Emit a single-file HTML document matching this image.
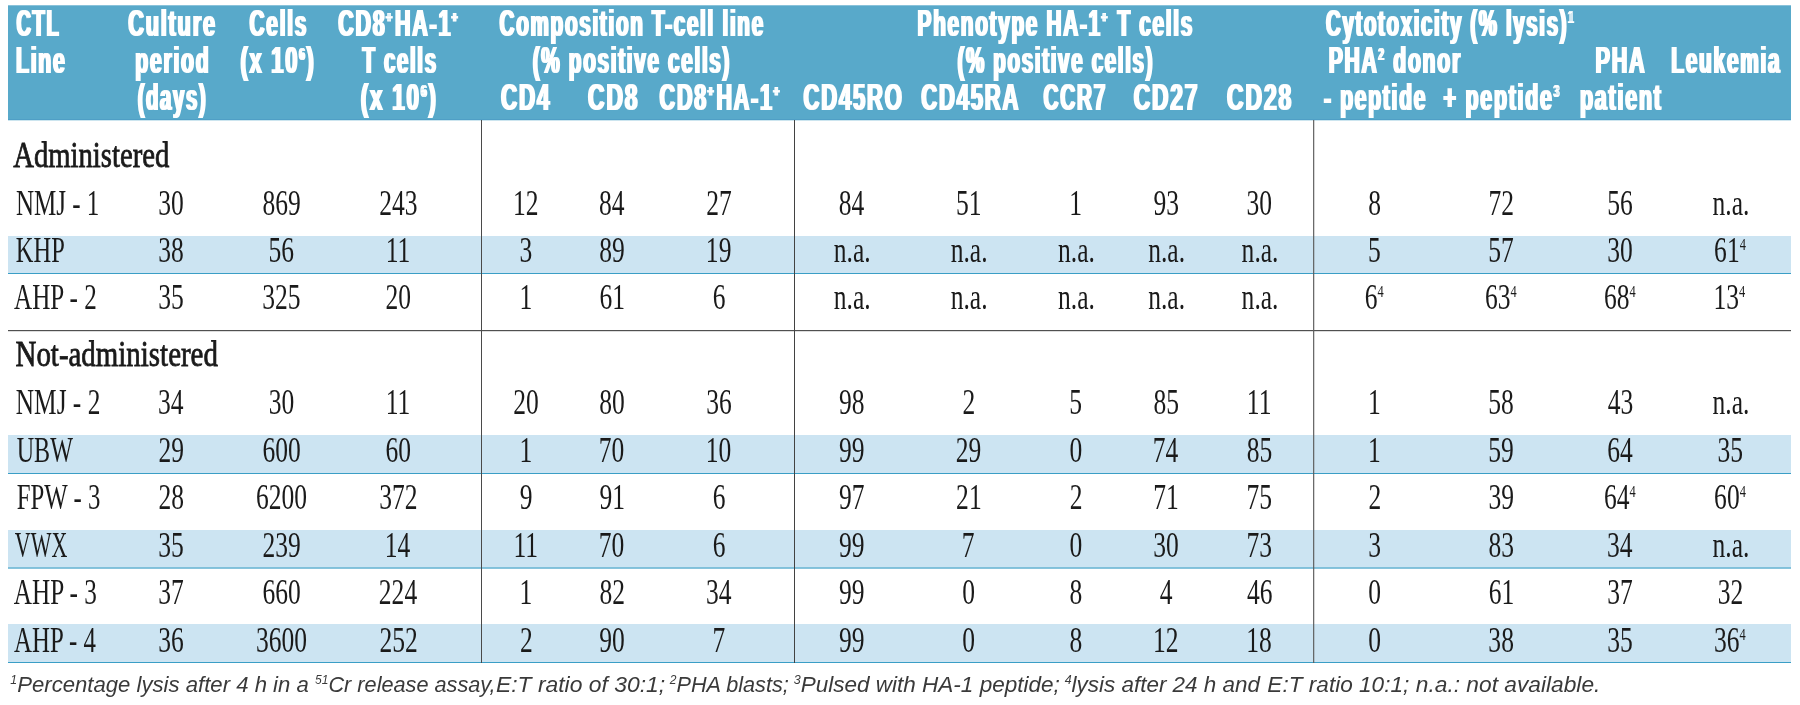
<!DOCTYPE html>
<html><head><meta charset="utf-8"><title>Table</title><style>
html,body{margin:0;padding:0;background:#fff;}
body{width:1800px;height:705px;overflow:hidden;}
svg{display:block;will-change:transform;}
.h{font-family:"Liberation Sans",sans-serif;font-weight:bold;font-size:36.2px;letter-spacing:3.0px;color:#fff;fill:currentColor;}
.b{font-family:"Liberation Serif",serif;font-size:36.0px;fill:#1a1a1a;}
.l{font-family:"Liberation Serif",serif;font-weight:normal;font-size:36.0px;fill:#1a1a1a;stroke:#1a1a1a;stroke-width:0.8px;}
.f{font-family:"Liberation Sans",sans-serif;font-style:italic;font-size:22.5px;fill:#3a3a3a;}
</style></head>
<body><svg width="1800" height="705" viewBox="0 0 1800 705">
<defs><filter id="fh" x="-2%" y="-10%" width="104%" height="120%"><feMorphology operator="dilate" radius="1 0"/></filter></defs>
<rect x="8" y="5.3" width="1783" height="115.0" fill="#58a9ca"/>
<rect x="8" y="119" width="1783" height="1" fill="#4f9fc6"/>
<rect x="8" y="236" width="1783" height="37" fill="#cce4f2"/>
<rect x="8" y="273" width="1783" height="1.0" fill="#3a9ec6"/>
<rect x="8" y="435" width="1783" height="38" fill="#cce4f2"/>
<rect x="8" y="473" width="1783" height="1.0" fill="#3a9ec6"/>
<rect x="8" y="530" width="1783" height="37.4" fill="#cce4f2"/>
<rect x="8" y="567.4" width="1783" height="1.2" fill="#3a9ec6"/>
<rect x="8" y="624" width="1783" height="38" fill="#cce4f2"/>
<rect x="8" y="662" width="1783" height="1.0" fill="#3a9ec6"/>
<rect x="8" y="330.0" width="1783" height="1.2" fill="#505050"/>
<rect x="481" y="120" width="1.0" height="543" fill="#4a4a4a"/>
<rect x="794" y="120" width="1.0" height="543" fill="#424242"/>
<rect x="1313.1" y="120" width="1.15" height="543" fill="#5a5a5a"/>
<g class="h" filter="url(#fh)">
<text transform="matrix(0.5525 0 0 1 16.51 35.60)">CTL</text>
<text transform="matrix(0.6002 0 0 1 128.19 35.60)">Culture</text>
<text transform="matrix(0.5756 0 0 1 249.60 35.60)">Cells</text>
<text transform="matrix(0.5929 0 0 1 338.19 35.60)">CD8<tspan style="font-size:15.0px;stroke:currentColor;stroke-width:0.9px" dy="-14.0">+</tspan><tspan dy="14.0" dx="2.5">HA-1</tspan><tspan style="font-size:15.0px;stroke:currentColor;stroke-width:0.9px" dy="-14.0">+</tspan></text>
<text transform="matrix(0.5704 0 0 1 499.60 35.60)">Composition T-cell line</text>
<text transform="matrix(0.5729 0 0 1 917.58 35.60)">Phenotype HA-1<tspan style="font-size:15.0px;stroke:currentColor;stroke-width:0.9px" dy="-14.0">+</tspan><tspan dy="14.0" dx="2.5"> T cells</tspan></text>
<text transform="matrix(0.5633 0 0 1 1326.01 35.60)">Cytotoxicity (% lysis)<tspan style="font-size:16.5px" dy="-13.0">1</tspan></text>
<text transform="matrix(0.5873 0 0 1 15.96 72.90)">Line</text>
<text transform="matrix(0.5842 0 0 1 135.26 72.90)">period</text>
<text transform="matrix(0.6035 0 0 1 240.40 72.90)">(x 10<tspan style="font-size:16.5px" dy="-13.0">6</tspan><tspan dy="13.0">)</tspan></text>
<text transform="matrix(0.5636 0 0 1 362.43 72.90)">T cells</text>
<text transform="matrix(0.5707 0 0 1 532.73 72.90)">(% positive cells)</text>
<text transform="matrix(0.5661 0 0 1 957.43 72.90)">(% positive cells)</text>
<text transform="matrix(0.5842 0 0 1 1328.66 72.90)">PHA<tspan style="font-size:16.5px" dy="-13.0">2</tspan><tspan dy="13.0"> donor</tspan></text>
<text transform="matrix(0.5964 0 0 1 1595.54 72.90)">PHA</text>
<text transform="matrix(0.5769 0 0 1 1671.27 72.90)">Leukemia</text>
<text transform="matrix(0.5597 0 0 1 137.64 109.50)">(days)</text>
<text transform="matrix(0.6177 0 0 1 360.68 109.50)">(x 10<tspan style="font-size:16.5px" dy="-13.0">6</tspan><tspan dy="13.0">)</tspan></text>
<text transform="matrix(0.6193 0 0 1 500.98 109.50)">CD4</text>
<text transform="matrix(0.6311 0 0 1 588.07 109.50)">CD8</text>
<text transform="matrix(0.5944 0 0 1 659.59 109.50)">CD8<tspan style="font-size:15.0px;stroke:currentColor;stroke-width:0.9px" dy="-14.0">+</tspan><tspan dy="14.0" dx="2.5">HA-1</tspan><tspan style="font-size:15.0px;stroke:currentColor;stroke-width:0.9px" dy="-14.0">+</tspan></text>
<text transform="matrix(0.6076 0 0 1 803.58 109.50)">CD45RO</text>
<text transform="matrix(0.6080 0 0 1 921.28 109.50)">CD45RA</text>
<text transform="matrix(0.5738 0 0 1 1043.60 109.50)">CCR7</text>
<text transform="matrix(0.6290 0 0 1 1133.67 109.50)">CD27</text>
<text transform="matrix(0.6321 0 0 1 1227.07 109.50)">CD28</text>
<text transform="matrix(0.5806 0 0 1 1323.95 109.50)">- peptide</text>
<text transform="matrix(0.5890 0 0 1 1443.59 109.50)">+ peptide<tspan style="font-size:16.5px" dy="-13.0">3</tspan></text>
<text transform="matrix(0.5923 0 0 1 1579.95 109.50)">patient</text>
</g>
<g class="l">
<text transform="matrix(0.7965 0 0 1 13.24 167.10)">Administered</text>
<text transform="matrix(0.8038 0 0 1 15.51 366.40)">Not-administered</text>
</g>
<g class="b">
<text transform="matrix(0.6959 0 0 1 15.89 214.80)">NMJ - 1</text>
<text transform="matrix(0.7100 0 0 1 158.27 214.80)">30</text>
<text transform="matrix(0.7100 0 0 1 262.52 214.80)">869</text>
<text transform="matrix(0.7100 0 0 1 379.14 214.80)">243</text>
<text transform="matrix(0.7100 0 0 1 513.00 214.80)">12</text>
<text transform="matrix(0.7100 0 0 1 598.88 214.80)">84</text>
<text transform="matrix(0.7100 0 0 1 706.34 214.80)">27</text>
<text transform="matrix(0.7100 0 0 1 838.68 214.80)">84</text>
<text transform="matrix(0.7100 0 0 1 955.89 214.80)">51</text>
<text transform="matrix(0.7100 0 0 1 1069.22 214.80)">1</text>
<text transform="matrix(0.7100 0 0 1 1153.46 214.80)">93</text>
<text transform="matrix(0.7100 0 0 1 1246.57 214.80)">30</text>
<text transform="matrix(0.7100 0 0 1 1368.37 214.80)">8</text>
<text transform="matrix(0.7100 0 0 1 1488.50 214.80)">72</text>
<text transform="matrix(0.7100 0 0 1 1607.13 214.80)">56</text>
<text transform="matrix(0.7100 0 0 1 1712.51 214.80)">n.a.</text>
<text transform="matrix(0.6796 0 0 1 15.81 262.00)">KHP</text>
<text transform="matrix(0.7100 0 0 1 158.27 262.00)">38</text>
<text transform="matrix(0.7100 0 0 1 268.53 262.00)">56</text>
<text transform="matrix(0.7100 0 0 1 385.65 262.00)">11</text>
<text transform="matrix(0.7100 0 0 1 519.57 262.00)">3</text>
<text transform="matrix(0.7100 0 0 1 599.21 262.00)">89</text>
<text transform="matrix(0.7100 0 0 1 705.87 262.00)">19</text>
<text transform="matrix(0.7100 0 0 1 833.81 262.00)">n.a.</text>
<text transform="matrix(0.7100 0 0 1 950.71 262.00)">n.a.</text>
<text transform="matrix(0.7100 0 0 1 1058.01 262.00)">n.a.</text>
<text transform="matrix(0.7100 0 0 1 1148.21 262.00)">n.a.</text>
<text transform="matrix(0.7100 0 0 1 1241.61 262.00)">n.a.</text>
<text transform="matrix(0.7100 0 0 1 1368.10 262.00)">5</text>
<text transform="matrix(0.7100 0 0 1 1488.21 262.00)">57</text>
<text transform="matrix(0.7100 0 0 1 1607.27 262.00)">30</text>
<text transform="matrix(0.7100 0 0 1 1714.11 262.00)">61<tspan style="font-size:17.5px" dy="-12.3">4</tspan></text>
<text transform="matrix(0.6976 0 0 1 14.02 309.10)">AHP - 2</text>
<text transform="matrix(0.7100 0 0 1 158.27 309.10)">35</text>
<text transform="matrix(0.7100 0 0 1 262.28 309.10)">325</text>
<text transform="matrix(0.7100 0 0 1 385.52 309.10)">20</text>
<text transform="matrix(0.7100 0 0 1 519.42 309.10)">1</text>
<text transform="matrix(0.7100 0 0 1 599.42 309.10)">61</text>
<text transform="matrix(0.7100 0 0 1 712.75 309.10)">6</text>
<text transform="matrix(0.7100 0 0 1 833.81 309.10)">n.a.</text>
<text transform="matrix(0.7100 0 0 1 950.71 309.10)">n.a.</text>
<text transform="matrix(0.7100 0 0 1 1058.01 309.10)">n.a.</text>
<text transform="matrix(0.7100 0 0 1 1148.21 309.10)">n.a.</text>
<text transform="matrix(0.7100 0 0 1 1241.61 309.10)">n.a.</text>
<text transform="matrix(0.7100 0 0 1 1364.80 309.10)">6<tspan style="font-size:17.5px" dy="-12.3">4</tspan></text>
<text transform="matrix(0.7100 0 0 1 1485.01 309.10)">63<tspan style="font-size:17.5px" dy="-12.3">4</tspan></text>
<text transform="matrix(0.7100 0 0 1 1603.91 309.10)">68<tspan style="font-size:17.5px" dy="-12.3">4</tspan></text>
<text transform="matrix(0.7100 0 0 1 1713.52 309.10)">13<tspan style="font-size:17.5px" dy="-12.3">4</tspan></text>
<text transform="matrix(0.7048 0 0 1 15.78 414.30)">NMJ - 2</text>
<text transform="matrix(0.7100 0 0 1 157.97 414.30)">34</text>
<text transform="matrix(0.7100 0 0 1 268.67 414.30)">30</text>
<text transform="matrix(0.7100 0 0 1 385.65 414.30)">11</text>
<text transform="matrix(0.7100 0 0 1 513.32 414.30)">20</text>
<text transform="matrix(0.7100 0 0 1 599.18 414.30)">80</text>
<text transform="matrix(0.7100 0 0 1 706.20 414.30)">36</text>
<text transform="matrix(0.7100 0 0 1 839.05 414.30)">98</text>
<text transform="matrix(0.7100 0 0 1 962.47 414.30)">2</text>
<text transform="matrix(0.7100 0 0 1 1069.30 414.30)">5</text>
<text transform="matrix(0.7100 0 0 1 1153.39 414.30)">85</text>
<text transform="matrix(0.7100 0 0 1 1246.85 414.30)">11</text>
<text transform="matrix(0.7100 0 0 1 1368.02 414.30)">1</text>
<text transform="matrix(0.7100 0 0 1 1488.30 414.30)">58</text>
<text transform="matrix(0.7100 0 0 1 1607.75 414.30)">43</text>
<text transform="matrix(0.7100 0 0 1 1712.51 414.30)">n.a.</text>
<text transform="matrix(0.6688 0 0 1 16.70 462.10)">UBW</text>
<text transform="matrix(0.7100 0 0 1 158.45 462.10)">29</text>
<text transform="matrix(0.7100 0 0 1 262.44 462.10)">600</text>
<text transform="matrix(0.7100 0 0 1 385.53 462.10)">60</text>
<text transform="matrix(0.7100 0 0 1 519.42 462.10)">1</text>
<text transform="matrix(0.7100 0 0 1 598.84 462.10)">70</text>
<text transform="matrix(0.7100 0 0 1 705.84 462.10)">10</text>
<text transform="matrix(0.7100 0 0 1 839.08 462.10)">99</text>
<text transform="matrix(0.7100 0 0 1 955.85 462.10)">29</text>
<text transform="matrix(0.7100 0 0 1 1069.57 462.10)">0</text>
<text transform="matrix(0.7100 0 0 1 1152.74 462.10)">74</text>
<text transform="matrix(0.7100 0 0 1 1246.79 462.10)">85</text>
<text transform="matrix(0.7100 0 0 1 1368.02 462.10)">1</text>
<text transform="matrix(0.7100 0 0 1 1488.32 462.10)">59</text>
<text transform="matrix(0.7100 0 0 1 1607.13 462.10)">64</text>
<text transform="matrix(0.7100 0 0 1 1717.47 462.10)">35</text>
<text transform="matrix(0.6892 0 0 1 16.70 509.30)">FPW - 3</text>
<text transform="matrix(0.7100 0 0 1 158.42 509.30)">28</text>
<text transform="matrix(0.7100 0 0 1 256.05 509.30)">6200</text>
<text transform="matrix(0.7100 0 0 1 379.24 509.30)">372</text>
<text transform="matrix(0.7100 0 0 1 519.87 509.30)">9</text>
<text transform="matrix(0.7100 0 0 1 599.54 509.30)">91</text>
<text transform="matrix(0.7100 0 0 1 712.75 509.30)">6</text>
<text transform="matrix(0.7100 0 0 1 838.96 509.30)">97</text>
<text transform="matrix(0.7100 0 0 1 956.12 509.30)">21</text>
<text transform="matrix(0.7100 0 0 1 1069.77 509.30)">2</text>
<text transform="matrix(0.7100 0 0 1 1153.33 509.30)">71</text>
<text transform="matrix(0.7100 0 0 1 1246.44 509.30)">75</text>
<text transform="matrix(0.7100 0 0 1 1368.57 509.30)">2</text>
<text transform="matrix(0.7100 0 0 1 1488.39 509.30)">39</text>
<text transform="matrix(0.7100 0 0 1 1603.91 509.30)">64<tspan style="font-size:17.5px" dy="-12.3">4</tspan></text>
<text transform="matrix(0.7100 0 0 1 1714.11 509.30)">60<tspan style="font-size:17.5px" dy="-12.3">4</tspan></text>
<text transform="matrix(0.6106 0 0 1 14.83 556.50)">VWX</text>
<text transform="matrix(0.7100 0 0 1 158.27 556.50)">35</text>
<text transform="matrix(0.7100 0 0 1 262.46 556.50)">239</text>
<text transform="matrix(0.7100 0 0 1 384.64 556.50)">14</text>
<text transform="matrix(0.7100 0 0 1 513.45 556.50)">11</text>
<text transform="matrix(0.7100 0 0 1 598.84 556.50)">70</text>
<text transform="matrix(0.7100 0 0 1 712.75 556.50)">6</text>
<text transform="matrix(0.7100 0 0 1 839.08 556.50)">99</text>
<text transform="matrix(0.7100 0 0 1 961.84 556.50)">7</text>
<text transform="matrix(0.7100 0 0 1 1069.57 556.50)">0</text>
<text transform="matrix(0.7100 0 0 1 1153.17 556.50)">30</text>
<text transform="matrix(0.7100 0 0 1 1246.45 556.50)">73</text>
<text transform="matrix(0.7100 0 0 1 1368.17 556.50)">3</text>
<text transform="matrix(0.7100 0 0 1 1488.59 556.50)">83</text>
<text transform="matrix(0.7100 0 0 1 1606.97 556.50)">34</text>
<text transform="matrix(0.7100 0 0 1 1712.51 556.50)">n.a.</text>
<text transform="matrix(0.7008 0 0 1 13.71 604.00)">AHP - 3</text>
<text transform="matrix(0.7100 0 0 1 158.18 604.00)">37</text>
<text transform="matrix(0.7100 0 0 1 262.44 604.00)">660</text>
<text transform="matrix(0.7100 0 0 1 378.83 604.00)">224</text>
<text transform="matrix(0.7100 0 0 1 519.42 604.00)">1</text>
<text transform="matrix(0.7100 0 0 1 599.44 604.00)">82</text>
<text transform="matrix(0.7100 0 0 1 705.97 604.00)">34</text>
<text transform="matrix(0.7100 0 0 1 839.08 604.00)">99</text>
<text transform="matrix(0.7100 0 0 1 962.27 604.00)">0</text>
<text transform="matrix(0.7100 0 0 1 1069.57 604.00)">8</text>
<text transform="matrix(0.7100 0 0 1 1159.73 604.00)">4</text>
<text transform="matrix(0.7100 0 0 1 1246.97 604.00)">46</text>
<text transform="matrix(0.7100 0 0 1 1368.37 604.00)">0</text>
<text transform="matrix(0.7100 0 0 1 1488.82 604.00)">61</text>
<text transform="matrix(0.7100 0 0 1 1607.18 604.00)">37</text>
<text transform="matrix(0.7100 0 0 1 1717.73 604.00)">32</text>
<text transform="matrix(0.6903 0 0 1 14.02 652.20)">AHP - 4</text>
<text transform="matrix(0.7100 0 0 1 158.20 652.20)">36</text>
<text transform="matrix(0.7100 0 0 1 255.89 652.20)">3600</text>
<text transform="matrix(0.7100 0 0 1 379.39 652.20)">252</text>
<text transform="matrix(0.7100 0 0 1 519.97 652.20)">2</text>
<text transform="matrix(0.7100 0 0 1 599.25 652.20)">90</text>
<text transform="matrix(0.7100 0 0 1 712.44 652.20)">7</text>
<text transform="matrix(0.7100 0 0 1 839.08 652.20)">99</text>
<text transform="matrix(0.7100 0 0 1 962.27 652.20)">0</text>
<text transform="matrix(0.7100 0 0 1 1069.57 652.20)">8</text>
<text transform="matrix(0.7100 0 0 1 1153.00 652.20)">12</text>
<text transform="matrix(0.7100 0 0 1 1246.14 652.20)">18</text>
<text transform="matrix(0.7100 0 0 1 1368.37 652.20)">0</text>
<text transform="matrix(0.7100 0 0 1 1488.37 652.20)">38</text>
<text transform="matrix(0.7100 0 0 1 1607.27 652.20)">35</text>
<text transform="matrix(0.7100 0 0 1 1713.95 652.20)">36<tspan style="font-size:17.5px" dy="-12.3">4</tspan></text>
</g>
<g class="f">
<text transform="matrix(0.9842 0 0 1 10.36 691.80)"><tspan style="font-size:12.5px" dy="-8.0">1</tspan><tspan dy="8.0">Percentage lysis after 4 h in a </tspan></text>
<text transform="matrix(0.9645 0 0 1 315.02 691.80)"><tspan style="font-size:12.5px" dy="-8.0">51</tspan><tspan dy="8.0">Cr release assay, </tspan></text>
<text transform="matrix(1.0180 0 0 1 495.93 691.80)">E:T ratio of 30:1; </text>
<text transform="matrix(0.9625 0 0 1 669.75 691.80)"><tspan style="font-size:12.5px" dy="-8.0">2</tspan><tspan dy="8.0">PHA blasts; </tspan></text>
<text transform="matrix(1.0017 0 0 1 793.70 691.80)"><tspan style="font-size:12.5px" dy="-8.0">3</tspan><tspan dy="8.0">Pulsed with HA-1 peptide; </tspan></text>
<text transform="matrix(0.9979 0 0 1 1064.65 691.80)"><tspan style="font-size:12.5px" dy="-8.0">4</tspan><tspan dy="8.0">lysis after 24 h and </tspan></text>
<text transform="matrix(1.0048 0 0 1 1267.35 691.80)">E:T ratio 10:1; </text>
<text transform="matrix(1.0115 0 0 1 1415.80 691.80)">n.a.: not available.</text>
</g>
</svg></body></html>
